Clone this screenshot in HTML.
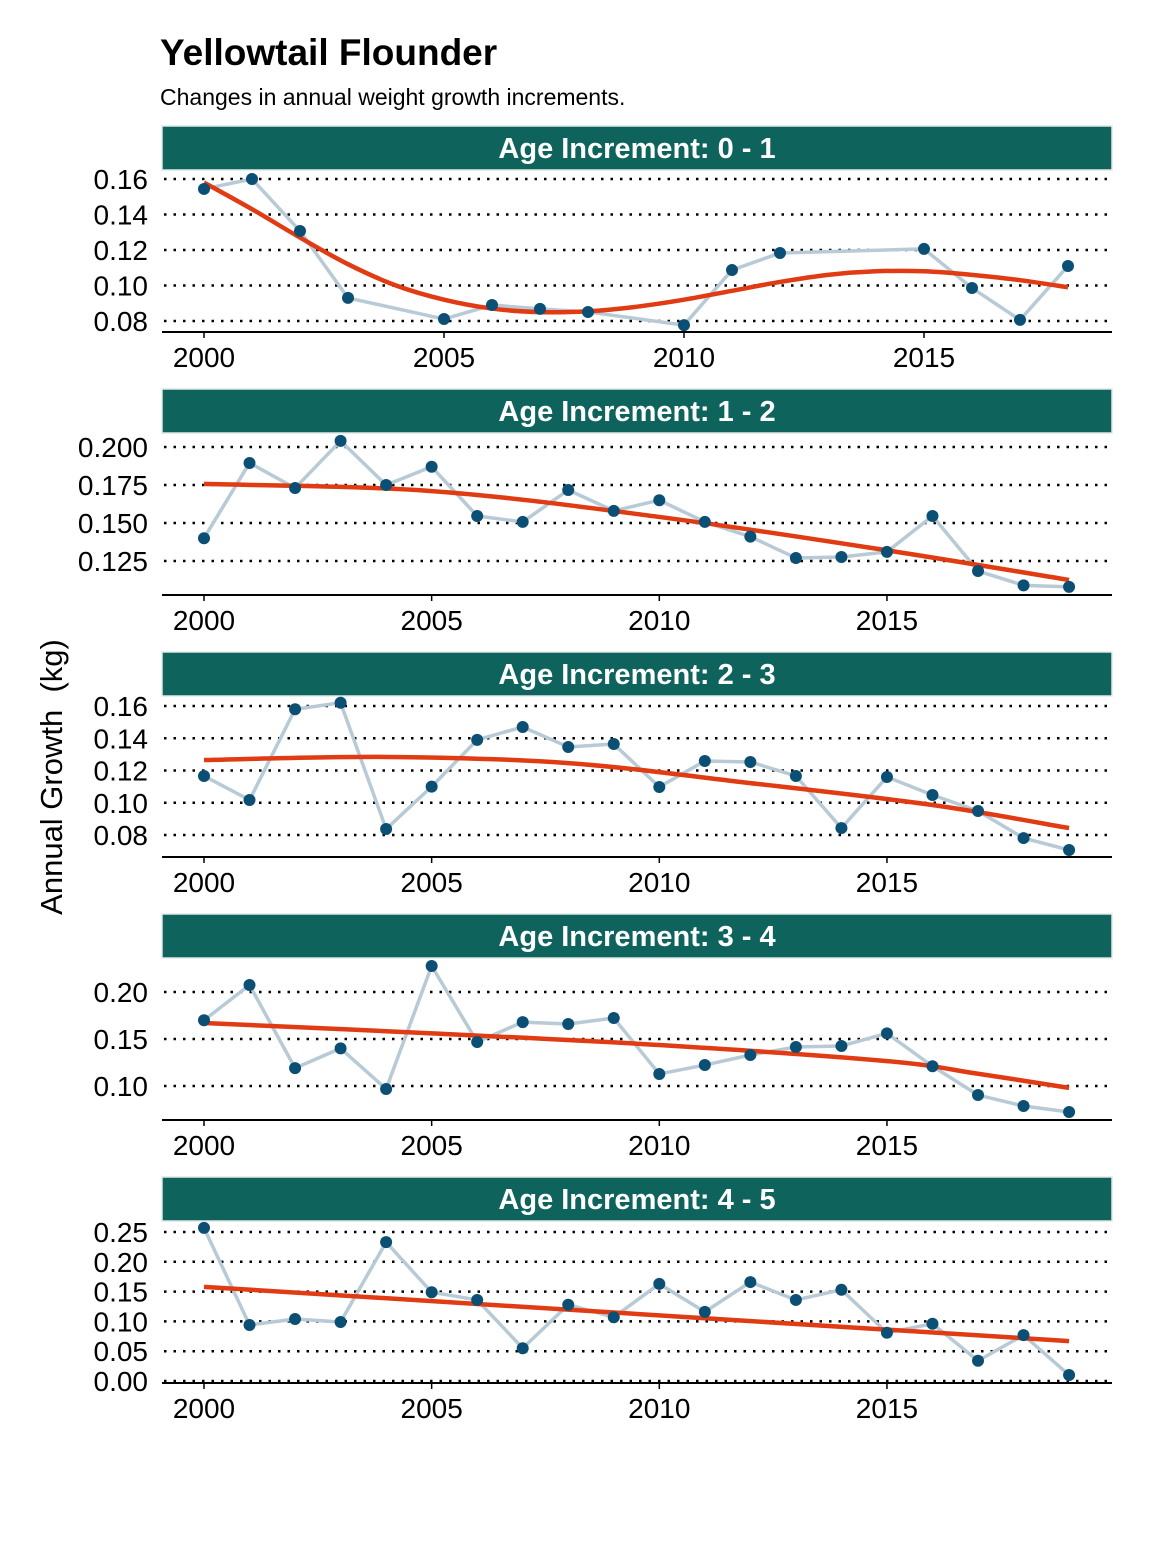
<!DOCTYPE html>
<html><head><meta charset="utf-8"><style>
body{margin:0;background:#fff;font-family:"Liberation Sans",sans-serif;}
svg text{font-family:"Liberation Sans",sans-serif;}
</style></head><body>
<svg id="chart" width="1152" height="1536" viewBox="0 0 1152 1536">
<text x="160" y="65" font-size="37" font-weight="bold" fill="#000">Yellowtail Flounder</text>
<text x="160" y="105" font-size="23" fill="#000">Changes in annual weight growth increments.</text>
<text transform="translate(62,777) rotate(-90)" text-anchor="middle" font-size="31" fill="#000" xml:space="preserve">Annual Growth  (kg)</text>
</svg>
<script>
const years1 = [2000,2001,2002,2003,2005,2006,2007,2008,2010,2011,2012,2015,2016,2017,2018];
const values1 = [0.1544,0.160,0.1307,0.093,0.0811,0.089,0.0868,0.0851,0.0777,0.1087,0.1183,0.1206,0.0986,0.0806,0.111];
const smoothYears1 = [2000,2001,2002,2003,2004,2005,2006,2007,2008,2009,2010,2011,2012,2013,2014,2015,2016,2017,2018];
const smooth1 = [0.158,0.143,0.127,0.112,0.100,0.092,0.087,0.085,0.0855,0.088,0.092,0.097,0.102,0.106,0.108,0.108,0.106,0.103,0.099];
const ticks1 = [0.08,0.10,0.12,0.14,0.16];
const tickLabels1 = ["0.08","0.10","0.12","0.14","0.16"];

const yearsAll = [2000,2001,2002,2003,2004,2005,2006,2007,2008,2009,2010,2011,2012,2013,2014,2015,2016,2017,2018,2019];
const values2 = [0.140,0.1895,0.173,0.204,0.175,0.187,0.1546,0.1507,0.1717,0.158,0.165,0.1507,0.141,0.127,0.1276,0.131,0.1546,0.1184,0.109,0.108];
const smoothYears2 = [2000,2005,2010,2015,2019];
const smooth2 = [0.1757,0.171,0.154,0.132,0.1125];
const ticks2 = [0.125,0.150,0.175,0.200];
const tickLabels2 = ["0.125","0.150","0.175","0.200"];

const values3 = [0.1166,0.1017,0.158,0.162,0.0837,0.110,0.139,0.147,0.1346,0.1364,0.1098,0.1259,0.1253,0.1166,0.0843,0.116,0.1048,0.0949,0.0781,0.0707];
const smoothYears3 = [2000,2004,2008,2012,2016,2019];
const smooth3 = [0.1265,0.1284,0.1246,0.1122,0.0986,0.0843];
const ticks3 = [0.08,0.10,0.12,0.14,0.16];
const tickLabels3 = ["0.08","0.10","0.12","0.14","0.16"];

const values4 = [0.170,0.2074,0.119,0.140,0.0968,0.2277,0.1468,0.168,0.166,0.1723,0.1128,0.1223,0.133,0.1415,0.1426,0.156,0.121,0.0904,0.0787,0.0723];
const smoothYears4 = [2000,2005,2010,2015,2017,2019];
const smooth4 = [0.167,0.156,0.1436,0.1265,0.113,0.098];
const ticks4 = [0.10,0.15,0.20];
const tickLabels4 = ["0.10","0.15","0.20"];

const values5 = [0.257,0.094,0.104,0.099,0.233,0.149,0.136,0.055,0.128,0.107,0.163,0.116,0.166,0.136,0.153,0.081,0.096,0.034,0.077,0.010];
const smoothYears5 = [2000,2019];
const smooth5 = [0.158,0.067];
const ticks5 = [0.00,0.05,0.10,0.15,0.20,0.25];
const tickLabels5 = ["0.00","0.05","0.10","0.15","0.20","0.25"];

const xTicks = [2000,2005,2010,2015];
const xTickLabels = ["2000","2005","2010","2015"];

const panels = [
 {label:"Age Increment: 0 - 1", top:126, axisY:332, pxYr:48, v0:0.16, y0:179, pxU:1775, years:years1, vals:values1, sy:smoothYears1, sv:smooth1, ticks:ticks1, tl:tickLabels1},
 {label:"Age Increment: 1 - 2", top:389, axisY:595, pxYr:45.53, v0:0.200, y0:447, pxU:1520, years:yearsAll, vals:values2, sy:smoothYears2, sv:smooth2, ticks:ticks2, tl:tickLabels2},
 {label:"Age Increment: 2 - 3", top:652, axisY:857, pxYr:45.53, v0:0.16, y0:706, pxU:1612.5, years:yearsAll, vals:values3, sy:smoothYears3, sv:smooth3, ticks:ticks3, tl:tickLabels3},
 {label:"Age Increment: 3 - 4", top:914, axisY:1120, pxYr:45.53, v0:0.20, y0:992, pxU:940, years:yearsAll, vals:values4, sy:smoothYears4, sv:smooth4, ticks:ticks4, tl:tickLabels4},
 {label:"Age Increment: 4 - 5", top:1177, axisY:1383, pxYr:45.53, v0:0.00, y0:1381, pxU:596, years:yearsAll, vals:values5, sy:smoothYears5, sv:smooth5, ticks:ticks5, tl:tickLabels5}
];
const NS="http://www.w3.org/2000/svg";
const svg=document.getElementById('chart');
function mk(tag,attrs,parent){const e=document.createElementNS(NS,tag);for(const k in attrs)e.setAttribute(k,attrs[k]);(parent||svg).appendChild(e);return e;}
function spline(pts){
 if(pts.length<3)return "M"+pts.map(p=>p.join(",")).join("L");
 let d="M"+pts[0][0]+","+pts[0][1];
 for(let i=0;i<pts.length-1;i++){
  const p0=pts[Math.max(0,i-1)],p1=pts[i],p2=pts[i+1],p3=pts[Math.min(pts.length-1,i+2)];
  const c1=[p1[0]+(p2[0]-p0[0])/6,p1[1]+(p2[1]-p0[1])/6];
  const c2=[p2[0]-(p3[0]-p1[0])/6,p2[1]-(p3[1]-p1[1])/6];
  d+="C"+c1+" "+c2+" "+p2;
 }
 return d;
}
panels.forEach((p,pi)=>{
 const g=mk('g',{});
 
 
 const xs=y=>204+(y-2000)*p.pxYr;
 const ys=v=>p.y0-(v-p.v0)*p.pxU;
 const strip=mk('rect',{x:162,y:p.top,width:950,height:44,fill:'#0e645c',stroke:'#dfe8e6','stroke-width':1.5},g);
 
 
 const st=mk('text',{x:637,y:p.top+32,'text-anchor':'middle','font-size':29,'font-weight':'bold',fill:'#fff'},g);
 st.textContent=p.label;
 
 
 p.ticks.forEach((t,i)=>{
  const y=ys(t);
  const gl=mk('line',{x1:164,x2:1112,y1:y,y2:y,stroke:'#000','stroke-width':2.5,'stroke-dasharray':'2.5 7'},g);
  
  
  const tl=mk('text',{x:148,y:y+10,'text-anchor':'end','font-size':28,fill:'#000'},g);
  tl.textContent=p.tl[i];
  
  
 });
 const ax=mk('line',{x1:162,x2:1112,y1:p.axisY,y2:p.axisY,stroke:'#000','stroke-width':2},g);
 
 
 xTicks.forEach((t,i)=>{
  const x=xs(t);
  const tk=mk('line',{x1:x,x2:x,y1:p.axisY,y2:p.axisY+6,stroke:'#000','stroke-width':1.5},g);
  
  
  const tl=mk('text',{x:x,y:p.axisY+35,'text-anchor':'middle','font-size':28,fill:'#000'},g);
  tl.textContent=xTickLabels[i];
  
  
 });
 const pts=p.years.map((y,i)=>[xs(y),ys(p.vals[i])]);
 const ln=mk('polyline',{points:pts.map(q=>q.join(",")).join(" "),fill:'none',stroke:'#b7cad5','stroke-width':3.5,'stroke-linejoin':'round'},g);
 
 
 const sp=p.sy.map((y,i)=>[xs(y),ys(p.sv[i])]);
 const sm=mk('path',{d:spline(sp),fill:'none',stroke:'#e03b12','stroke-width':4.5},g);
 
 
 pts.forEach(q=>{
  const c=mk('circle',{cx:q[0],cy:q[1],r:6,fill:'#0c4f74'},g);
  
  
 });
});
</script>
</body></html>
